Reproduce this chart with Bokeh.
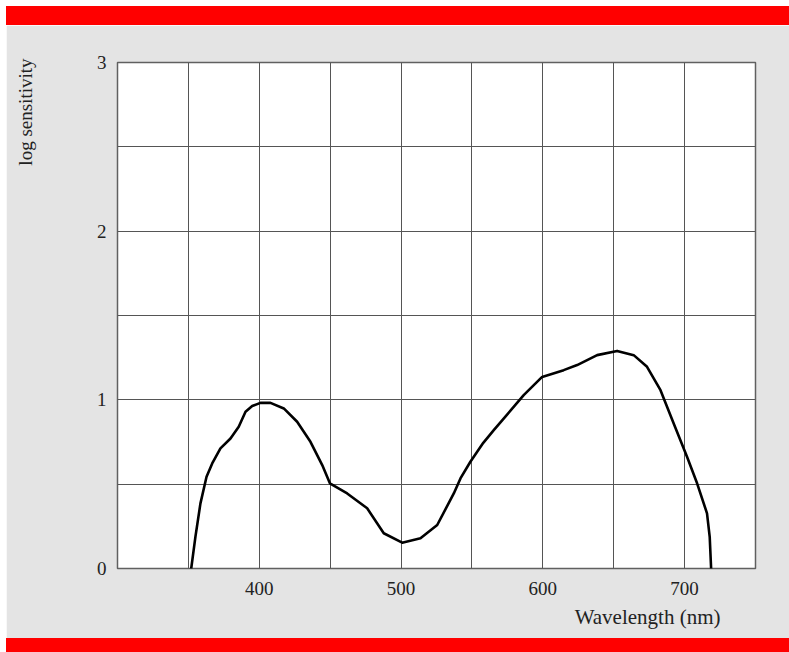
from bokeh.plotting import figure
from bokeh.layouts import column
from bokeh.models import Div, FixedTicker, Title
from bokeh.embed import file_html
from bokeh.resources import INLINE

# Data
wavelength = [352.0, 355.0, 358.5, 362.8, 366.8, 372.6, 379.7, 385.5, 390.3, 395.0,
              400.8, 407.9, 417.3, 426.7, 436.1, 444.4, 449.8, 462.0, 476.1, 487.8,
              500.8, 513.7, 525.5, 537.2, 541.9, 548.9, 558.0, 565.4, 586.5, 599.5,
              614.7, 624.2, 638.3, 652.4, 664.1, 673.5, 683.0, 692.3, 701.7, 708.8,
              715.8, 717.7, 718.7]
sensitivity = [0.00, 0.19, 0.386, 0.544, 0.623, 0.712, 0.771, 0.84, 0.929, 0.963,
               0.982, 0.982, 0.949, 0.87, 0.751, 0.613, 0.505, 0.445, 0.357, 0.209,
               0.153, 0.179, 0.258, 0.445, 0.534, 0.633, 0.745, 0.82, 1.028, 1.136,
               1.176, 1.206, 1.265, 1.29, 1.265, 1.196, 1.057, 0.86, 0.662, 0.505,
               0.327, 0.188, 0.0]

x_grid_ticks = [300, 350, 400, 450, 500, 550, 600, 650, 700, 750]
x_labels = {300: "", 350: "", 400: "400", 450: "", 500: "500", 550: "",
            600: "600", 650: "", 700: "700", 750: ""}
y_grid_ticks = [0, 0.5, 1, 1.5, 2, 2.5, 3]
y_labels = {0: "0", 0.5: "", 1: "1", 1.5: "", 2: "2", 2.5: "", 3: "3"}
x_title = "Wavelength (nm)"
y_title = "log sensitivity"

FONT = "Liberation Serif"
GRAY = "#e4e4e4"
RED = "#ff0000"
TXT = "#222222"

p = figure(width=783, height=613, x_range=(300, 750), y_range=(0, 3),
           output_backend="svg", toolbar_location=None,
           min_border_left=111, min_border_right=34,
           min_border_top=37, min_border_bottom=70, margin=0)
p.border_fill_color = GRAY
p.background_fill_color = "white"
p.outline_line_color = "#606060"
p.outline_line_width = 1.5

p.xaxis.ticker = FixedTicker(ticks=x_grid_ticks)
p.xaxis.major_label_overrides = x_labels
p.yaxis.ticker = FixedTicker(ticks=y_grid_ticks)
p.yaxis.major_label_overrides = y_labels

for ax in (p.xaxis, p.yaxis):
    ax.axis_line_color = None
    ax.major_tick_line_color = None
    ax.minor_tick_line_color = None
    ax.major_tick_out = 0
    ax.major_tick_in = 0
    ax.major_label_text_font = FONT
    ax.major_label_text_font_size = "19px"
    ax.major_label_text_color = TXT
p.xaxis.major_label_standoff = 13
p.yaxis.major_label_standoff = 11

# invisible spacer label on the y axis to push the title outward
p.yaxis.axis_label = " "
p.yaxis.axis_label_standoff = 29
p.yaxis.axis_label_text_font_size = "19px"

p.xgrid.grid_line_color = "#555555"
p.ygrid.grid_line_color = "#555555"
p.xgrid.grid_line_width = 1
p.ygrid.grid_line_width = 1

p.line(wavelength, sensitivity, line_color="black", line_width=2.6,
       line_join="round", line_cap="round")

p.add_layout(Title(text=y_title, align="right", text_font=FONT,
                   text_font_style="normal", text_font_size="19px",
                   text_color=TXT, offset=-4), "left")
p.add_layout(Title(text=x_title, align="right", text_font=FONT,
                   text_font_style="normal", text_font_size="21px",
                   text_color=TXT, offset=35), "below")

top_bar = Div(text="", width=783, height=19, margin=0,
              styles={"background-color": RED})
bottom_bar = Div(text="", width=783, height=14, margin=0,
                 styles={"background-color": RED})

layout = column(top_bar, p, bottom_bar, spacing=0, margin=(6, 0, 0, 6))

open("out.html", "w").write(file_html(layout, INLINE))
